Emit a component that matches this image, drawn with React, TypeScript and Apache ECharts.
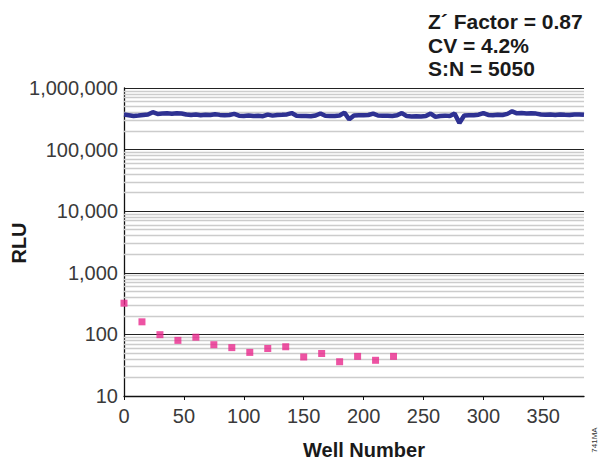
import React, { useEffect, useRef } from "react";
import * as echarts from "echarts";

// Control wells (high signal), sampled every 4 wells, RLU
const controlWellStep = 4;
const controlRLU = [
  370000, 362000, 352000, 358000, 365000, 372000, 405000, 380000, 385000, 388000,
  382000, 390000, 386000, 372000, 366000, 370000, 362000, 368000, 364000, 375000,
  366000, 360000, 364000, 380000, 356000, 352000, 358000, 350000, 354000, 348000,
  370000, 356000, 365000, 368000, 372000, 392000, 355000, 350000, 352000, 348000,
  358000, 386000, 354000, 350000, 352000, 358000, 398000, 310000, 358000, 360000,
  362000, 365000, 384000, 358000, 354000, 356000, 352000, 360000, 392000, 350000,
  346000, 348000, 345000, 350000, 384000, 340000, 352000, 356000, 350000, 384000,
  270000, 358000, 360000, 362000, 368000, 392000, 366000, 362000, 368000, 364000,
  380000, 418000, 388000, 392000, 386000, 390000, 384000, 372000, 368000, 370000,
  366000, 372000, 368000, 365000, 370000, 372000, 368000,
];

// Background wells (low signal)
const blankWells = [0, 15, 30, 45, 60, 75, 90, 105, 120, 135, 150, 165, 180, 195, 210, 225];
const blankRLU = [321, 160, 99, 80, 90, 68, 61, 51, 59, 63, 43, 49, 36, 44, 38, 44];

const xTickValues = [0, 50, 100, 150, 200, 250, 300, 350];
const yDecades = [10, 100, 1000, 10000, 100000];
const minorMultipliers = [2, 3, 4, 5, 6, 7, 8, 9];
const statLines = ["Z\u00B4 Factor = 0.87", "CV = 4.2%", "S:N = 5050"];
const xTitle = "Well Number";
const yTitle = "RLU";
const figureCode = "741MA";

export default function App() {
  const ref = useRef<HTMLDivElement>(null);

  useEffect(() => {
    if (!ref.current) return;
    const chart = echarts.init(ref.current, undefined, { renderer: "svg" });

    const controlData = controlRLU.map((v, i) => [i * controlWellStep, v]);
    const blankData = blankWells.map((w, i) => [w, blankRLU[i]]);
    const minorLines: { yAxis: number }[] = [];
    yDecades.forEach((d) => minorMultipliers.forEach((m) => minorLines.push({ yAxis: d * m })));

    const labelFont = "'Liberation Sans', Arial, sans-serif";

    chart.setOption({
      animation: false,
      backgroundColor: "#ffffff",
      grid: { left: 124, right: 16, top: 88, bottom: 65, containLabel: false },
      xAxis: {
        type: "value",
        min: 0,
        max: 384,
        axisLine: { show: true, lineStyle: { color: "#111", width: 1.3 } },
        axisTick: {
          show: true,
          customValues: xTickValues,
          length: 4,
          inside: false,
          lineStyle: { color: "#111", width: 1 },
        },
        axisLabel: {
          customValues: xTickValues,
          fontSize: 20,
          color: "#3a3a3a",
          fontFamily: labelFont,
          margin: 10,
        },
        splitLine: { show: false },
      },
      yAxis: {
        type: "log",
        logBase: 10,
        min: 10,
        max: 1000000,
        axisLine: { show: true, lineStyle: { color: "#111", width: 1.3 } },
        axisTick: { show: false },
        axisLabel: {
          fontSize: 20,
          color: "#3a3a3a",
          fontFamily: labelFont,
          margin: 6,
          formatter: (v: number) => Math.round(v).toLocaleString("en-US"),
        },
        splitLine: { show: true, lineStyle: { color: "#222", width: 1 } },
      },
      series: [
        {
          type: "line",
          data: [],
          silent: true,
          z: 1,
          markLine: {
            silent: true,
            z: 1,
            symbol: ["none", "none"],
            label: { show: false },
            lineStyle: { color: "#cccccc", width: 1.4, type: "solid" },
            data: minorLines,
          },
        },
        {
          type: "line",
          data: controlData,
          showSymbol: false,
          z: 3,
          lineStyle: { color: "#2e3192", width: 4.5 },
          itemStyle: { color: "#2e3192" },
        },
        {
          type: "scatter",
          data: blankData,
          symbol: "rect",
          symbolSize: 7,
          z: 4,
          itemStyle: { color: "#e8288c" },
        },
      ],
      graphic: [
        ...statLines.map((t, i) => ({
          type: "text",
          left: 428,
          top: 11 + i * 23.5,
          z: 10,
          style: {
            text: t,
            font: `bold 21px ${labelFont}`,
            fill: "#1a1a1a",
          },
        })),
        {
          type: "text",
          x: 364,
          y: 450,
          style: {
            text: xTitle,
            font: `bold 20px ${labelFont}`,
            fill: "#1a1a1a",
            align: "center",
            verticalAlign: "middle",
          },
        },
        {
          type: "text",
          x: 19,
          y: 243,
          rotation: Math.PI / 2,
          style: {
            text: yTitle,
            font: `bold 20px ${labelFont}`,
            fill: "#1a1a1a",
            align: "center",
            verticalAlign: "middle",
          },
        },
        {
          type: "text",
          x: 594,
          y: 440,
          rotation: Math.PI / 2,
          style: {
            text: figureCode,
            font: `8px ${labelFont}`,
            fill: "#333",
            align: "center",
            verticalAlign: "middle",
          },
        },
      ],
    });

    return () => chart.dispose();
  }, []);

  return (
    <div
      ref={ref}
      style={{ position: "absolute", left: 0, top: 0, width: 600, height: 461 }}
    />
  );
}
